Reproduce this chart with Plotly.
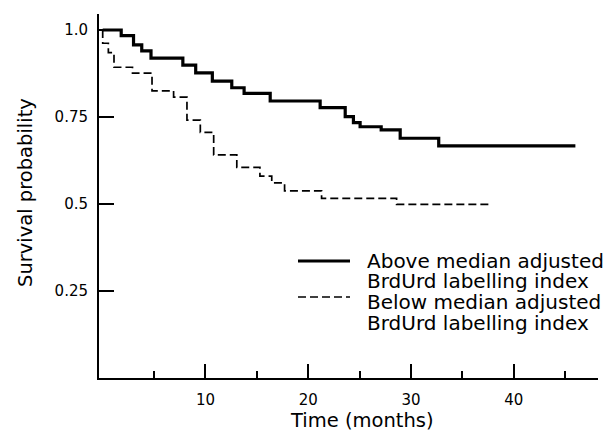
import plotly.graph_objects as go

# ---- data ----
above_time = [0, 1.8, 3.0, 3.8, 4.7, 7.8, 9.05, 10.67, 12.56, 13.76, 16.3, 21.16,
              23.6, 24.4, 25.05, 27.1, 28.95, 32.7, 46.0]
above_surv = [1.0, 0.984, 0.957, 0.94, 0.919, 0.899, 0.877, 0.853, 0.834, 0.818, 0.796, 0.777,
              0.751, 0.734, 0.722, 0.713, 0.689, 0.667, 0.667]

below_time = [0, 0, 0.55, 1.1, 2.9, 4.8, 6.9, 8.2, 9.5, 10.8, 13.05, 15.3, 16.45, 17.7,
              21.3, 28.6, 37.9]
below_surv = [1.0, 0.962, 0.935, 0.893, 0.876, 0.825, 0.807, 0.741, 0.706, 0.641, 0.605,
              0.580, 0.561, 0.538, 0.516, 0.499, 0.499]

x_ticks = [10, 20, 30, 40]
x_minor_ticks = [5, 15, 25, 35, 45]
y_ticks = [0.25, 0.5, 0.75, 1.0]
y_ticklabels = ["0.25", "0.5", "0.75", "1.0"]

legend_above = ["Above median adjusted", "BrdUrd labelling index"]
legend_below = ["Below median adjusted", "BrdUrd labelling index"]

FONT = "DejaVu Sans"
W, H = 607, 437
ML, MR, MT, MB = 99, 9, 14, 59
PW, PH = W - ML - MR, H - MT - MB


def px(x):
    return (x - ML) / PW


def py(y):
    return (H - MB - y) / PH


fig = go.Figure()
fig.add_trace(go.Scatter(x=above_time, y=above_surv, mode="lines", line_shape="hv",
                         line=dict(color="black", width=3.2), showlegend=False,
                         hoverinfo="skip"))
fig.add_trace(go.Scatter(x=below_time, y=below_surv, mode="lines", line_shape="hv",
                         line=dict(color="black", width=1.7, dash="8px,4px"),
                         showlegend=False, hoverinfo="skip"))

# legend keys
fig.add_shape(type="line", xref="paper", yref="paper", x0=px(298), x1=px(350),
              y0=py(261), y1=py(261), line=dict(color="black", width=3.2))
fig.add_shape(type="line", xref="paper", yref="paper", x0=px(298), x1=px(350),
              y0=py(297), y1=py(297), line=dict(color="black", width=1.7, dash="8px,4px"))

ann = []
for txt, yy in zip(legend_above + legend_below, [260, 280, 301, 322]):
    ann.append(dict(text=txt, xref="paper", yref="paper", x=px(365), y=py(yy + 1),
                    xanchor="left", yanchor="middle", showarrow=False,
                    font=dict(family=FONT, size=20, color="black")))
ann.append(dict(text="Time (months)", xref="paper", yref="paper", x=px(362), y=py(420),
                xanchor="center", yanchor="middle", showarrow=False,
                font=dict(family=FONT, size=19.5, color="black")))
ann.append(dict(text="Survival probability", xref="paper", yref="paper", x=px(25),
                y=py(193), xanchor="center", yanchor="middle", showarrow=False,
                textangle=-90, font=dict(family=FONT, size=19.5, color="black")))

fig.update_layout(
    width=W, height=H,
    margin=dict(l=ML, r=MR, t=MT, b=MB, pad=0),
    paper_bgcolor="white", plot_bgcolor="white",
    font=dict(family=FONT, color="black"),
    annotations=ann,
    xaxis=dict(range=[-0.36, 48.2], showgrid=False, zeroline=False,
               showline=True, linecolor="black", linewidth=2,
               tickmode="array", tickvals=x_ticks, ticks="inside", ticklen=14,
               tickwidth=1.6, tickcolor="black",
               tickfont=dict(family=FONT, size=15, color="black"),
               ticklabelstandoff=7,
               minor=dict(tickmode="array", tickvals=x_minor_ticks, ticks="inside",
                          ticklen=7, tickwidth=1.6, tickcolor="black", showgrid=False)),
    yaxis=dict(range=[0, 1.046], showgrid=False, zeroline=False,
               showline=True, linecolor="black", linewidth=2,
               tickmode="array", tickvals=y_ticks, ticktext=y_ticklabels,
               ticks="inside", ticklen=15, tickwidth=1.6, tickcolor="black",
               tickfont=dict(family=FONT, size=15, color="black"),
               ticklabelstandoff=6),
)

fig.write_html("out.html", config={"displayModeBar": False},
               post_script="document.body.style.margin='0px';document.body.style.padding='0px';")
